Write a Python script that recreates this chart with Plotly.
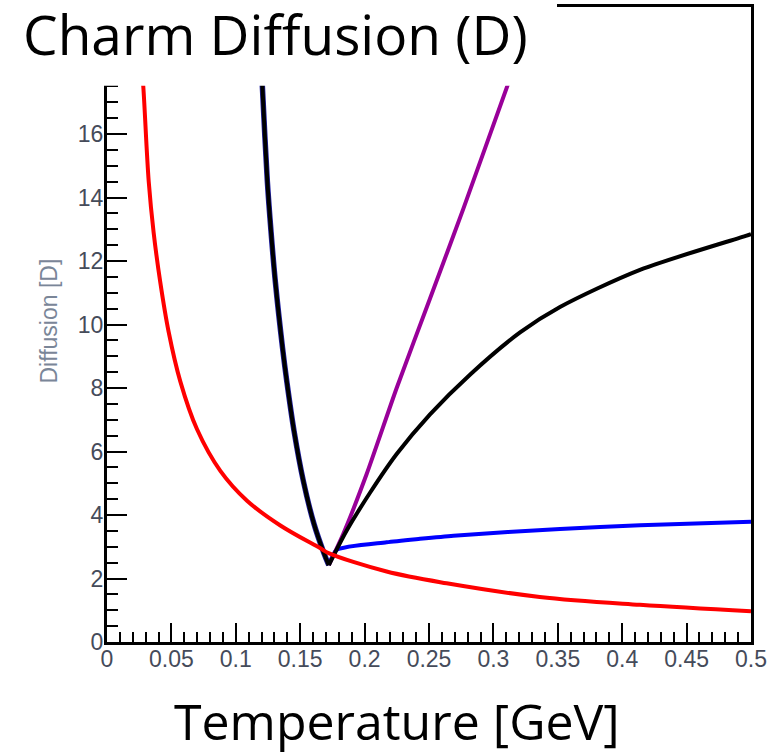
import plotly.graph_objects as go

# ---- data ----
T_red = [0.0262, 0.028, 0.0324, 0.0362, 0.0413, 0.0478, 0.0569, 0.0699, 0.088,
         0.1087, 0.1346, 0.1657, 0.172, 0.2171, 0.2637, 0.336, 0.4138, 0.5]
D_red = [18.4, 17.6, 14.5, 12.9, 11.35, 9.78, 8.21, 6.7, 5.39,
         4.45, 3.67, 2.95, 2.8, 2.22, 1.85, 1.42, 1.17, 0.97]

# shared steep branch below the critical temperature
T_left = [0.1196, 0.1205, 0.1245, 0.1274, 0.1307, 0.1363, 0.1396, 0.1452,
          0.1524, 0.1607, 0.1686, 0.1722]
D_left = [18.3, 17.6, 14.5, 12.9, 11.35, 9.26, 8.21, 6.65,
          5.08, 3.72, 2.78, 2.42]

T_purple = [0.1722, 0.1835, 0.2016, 0.2249, 0.2508, 0.2767, 0.3116, 0.318]
D_purple = [2.42, 3.41, 5.29, 8.0, 10.82, 13.65, 17.6, 18.3]

T_black = [0.1722, 0.1861, 0.2042, 0.2249, 0.2508, 0.2818, 0.3207, 0.3517,
           0.4138, 0.4966, 0.5]
D_black = [2.42, 3.51, 4.7, 5.92, 7.17, 8.42, 9.75, 10.55,
           11.72, 12.8, 12.85]

T_blue = [0.1722, 0.1783, 0.2171, 0.243, 0.269, 0.3517, 0.4138, 0.5]
D_blue = [2.42, 2.9, 3.14, 3.25, 3.35, 3.56, 3.68, 3.79]

x_tickvals = [0, 0.05, 0.1, 0.15, 0.2, 0.25, 0.3, 0.35, 0.4, 0.45, 0.5]
x_ticktext = ["0", "0.05", "0.1", "0.15", "0.2", "0.25", "0.3", "0.35", "0.4", "0.45", "0.5"]
y_tickvals = [0, 2, 4, 6, 8, 10, 12, 14, 16]

title_text = "Charm Diffusion (D)"
xtitle_text = "Temperature [GeV]"
ytitle_text = "Diffusion [D]"

# ---- figure ----
W, H = 778, 756
L, R, T, B = 107, 27, 4, 114
pw, ph = W - L - R, H - T - B


def px_x(x):
    return (x - L) / pw


def px_y(y):
    return (H - B - y) / ph


fig = go.Figure()
fig.add_trace(go.Scatter(x=T_left, y=D_left, mode="lines",
                         line=dict(color="#2020a0", width=5.5, shape="spline"),
                         hoverinfo="skip"))
fig.add_trace(go.Scatter(x=T_blue, y=D_blue, mode="lines",
                         line=dict(color="#0000ff", width=4, shape="spline", smoothing=0.6)))
fig.add_trace(go.Scatter(x=T_purple, y=D_purple, mode="lines",
                         line=dict(color="#990099", width=4, shape="spline", smoothing=0.6)))
fig.add_trace(go.Scatter(x=T_black, y=D_black, mode="lines",
                         line=dict(color="#000000", width=4, shape="spline", smoothing=0.8)))
fig.add_trace(go.Scatter(x=T_left, y=D_left, mode="lines",
                         line=dict(color="#000000", width=4, shape="spline")))
fig.add_trace(go.Scatter(x=T_red, y=D_red, mode="lines",
                         line=dict(color="#ff0000", width=4, shape="spline")))

tick_font = dict(family="Liberation Sans, Arial, sans-serif", size=23, color="#454b5a")

fig.update_layout(
    width=W, height=H,
    margin=dict(l=L, r=R, t=T, b=B, pad=0),
    paper_bgcolor="white", plot_bgcolor="white",
    showlegend=False,
    xaxis=dict(range=[0, 0.5], tickmode="array", tickvals=x_tickvals, ticktext=x_ticktext,
               ticks="inside", ticklen=19, tickwidth=2, tickcolor="black",
               minor=dict(dtick=0.01, ticks="inside", ticklen=10, tickwidth=2, tickcolor="black"),
               showline=True, linewidth=3, linecolor="black", mirror=True,
               showgrid=False, zeroline=False, tickfont=tick_font, ticklabelstandoff=-6),
    yaxis=dict(range=[0, 20], tickmode="array", tickvals=y_tickvals,
               ticks="inside", ticklen=20, tickwidth=2, tickcolor="black",
               minor=dict(dtick=0.5, ticks="inside", ticklen=11, tickwidth=2, tickcolor="black"),
               showline=True, linewidth=3, linecolor="black", mirror=True,
               showgrid=False, zeroline=False, tickfont=tick_font, ticklabelstandoff=-4),
    shapes=[dict(type="rect", xref="paper", yref="paper",
                 x0=px_x(-20), x1=px_x(557), y0=px_y(83), y1=px_y(-20),
                 fillcolor="white", line=dict(width=0), layer="above")],
    annotations=[
        dict(text=title_text, xref="paper", yref="paper", x=px_x(21), y=px_y(31),
             xanchor="left", yanchor="middle", showarrow=False,
             font=dict(family="Open Sans, sans-serif", size=55, color="black")),
        dict(text=xtitle_text, xref="paper", yref="paper", x=px_x(396.5), y=px_y(721),
             xanchor="center", yanchor="middle", showarrow=False,
             font=dict(family="Open Sans, sans-serif", size=50, color="black")),
        dict(text=ytitle_text, xref="paper", yref="paper", x=px_x(49), y=px_y(320),
             xanchor="center", yanchor="middle", showarrow=False, textangle=-90,
             font=dict(family="Liberation Sans, Arial, sans-serif", size=23, color="#7a8698")),
    ],
)

fig.write_html("out.html", config={"displayModeBar": False},
               post_script="document.body.style.margin='0';")
